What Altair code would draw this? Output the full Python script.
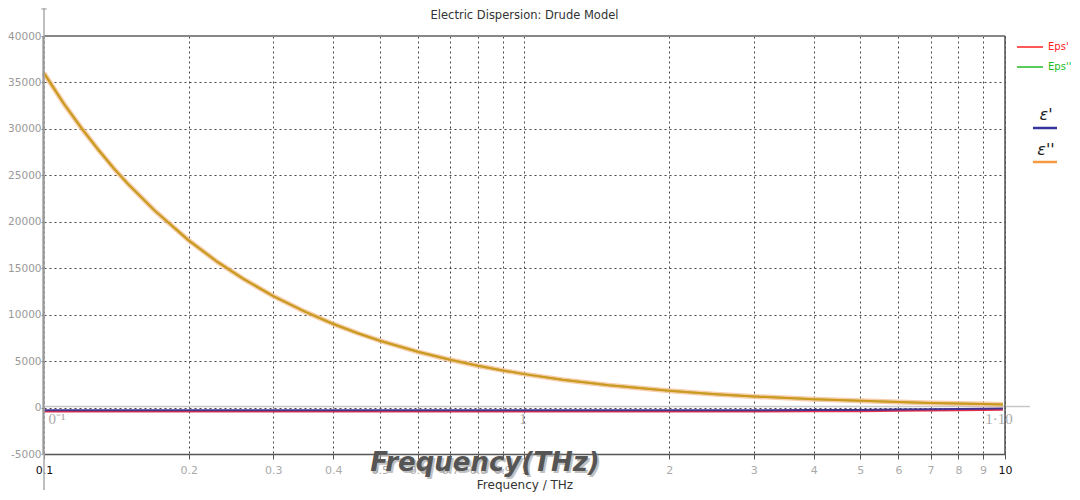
import altair as alt
import pandas as pd

# ---- data ----
freq = [0.1, 0.11, 0.12, 0.13, 0.14, 0.15, 0.17, 0.2, 0.23, 0.26, 0.3, 0.35, 0.4, 0.45,
        0.5, 0.6, 0.7, 0.8, 0.9, 1.0, 1.2, 1.5, 2.0, 2.5, 3.0, 4.0, 5.0, 6.0, 7.0, 8.0, 9.0, 9.9]
eps2 = [36000, 32700, 30000, 27700, 25700, 24000, 21200, 18000, 15650, 13850, 12000, 10300,
        9000, 8000, 7200, 6000, 5150, 4500, 4000, 3600, 3000, 2400, 1800, 1440, 1200, 900,
        720, 590, 500, 430, 370, 320]
eps1 = [-300, -300, -300, -300, -300, -300, -300, -300, -300, -300, -300, -300, -300, -300,
        -300, -300, -300, -300, -300, -300, -300, -298, -295, -292, -288, -270, -250, -220,
        -190, -160, -130, -110]

x_ticks = [0.1, 0.2, 0.3, 0.4, 0.5, 0.6, 0.7, 0.8, 0.9, 1, 2, 3, 4, 5, 6, 7, 8, 9, 10]
y_ticks = [-5000, 0, 5000, 10000, 15000, 20000, 25000, 30000, 35000, 40000]

title_text = "Electric Dispersion: Drude Model"
x_title = "Frequency / THz"
big_title = "Frequency(THz)"
legend_a = ["Eps'", "Eps''"]
legend_b = ["\u03b5'", "\u03b5''"]
ghost_labels = ["0\u207b\u00b9", "1", "1\u00b710"]

df = pd.DataFrame({"f": freq, "e2": eps2, "e1": eps1})

W, H = 961, 418
FONT = "DejaVu Sans"

xs = alt.Scale(type="log", domain=[0.1, 10], nice=False)
ys = alt.Scale(domain=[-5000, 40000], nice=False, zero=False)

x_axis = alt.Axis(values=x_ticks, title=None, grid=True, gridDash=[2, 3], gridColor="#333",
                  gridOpacity=0.9, domainColor="#555", domainWidth=1.5, tickColor="#555",
                  tickSize=5, labelFont=FONT, labelFontSize=11, labelPadding=5,
                  labelColor={"condition": {"test": "datum.value == 0.1 || datum.value == 10",
                                            "value": "#111"}, "value": "#aaa"},
                  labelExpr="datum.value < 1 ? format(datum.value, '.1f') : format(datum.value, 'd')",
                  labelOverlap=False, labelFlush=False)
y_axis = alt.Axis(values=y_ticks, title=None, grid=True, gridDash=[2, 3], gridColor="#333",
                  gridOpacity=0.9, domain=False, tickColor="#999", tickSize=3,
                  labelFont=FONT, labelFontSize=10.5, labelColor="#999", labelPadding=0,
                  labelExpr="'' + datum.value", labelOverlap=False)

base = alt.Chart(df)

grid = base.mark_line(opacity=0).encode(
    x=alt.X("f:Q", scale=xs, axis=x_axis),
    y=alt.Y("e2:Q", scale=ys, axis=y_axis),
)

green = base.mark_line(color="#22bb22", strokeWidth=2).encode(
    x=alt.X("f:Q", scale=xs), y=alt.Y("e2:Q", scale=ys))
orange_halo = base.mark_line(color="#f7b98a", strokeWidth=5, opacity=0.75).encode(
    x=alt.X("f:Q", scale=xs), y=alt.Y("e2:Q", scale=ys))
orange = base.mark_line(color="#c99a1c", strokeWidth=2).encode(
    x=alt.X("f:Q", scale=xs), y=alt.Y("e2:Q", scale=ys))
red = base.mark_line(color="#e8304a", strokeWidth=2.5).encode(
    x=alt.X("f:Q", scale=xs), y=alt.Y("e1:Q", scale=ys), yOffset=alt.value(1))
blue = base.mark_line(color="#44348f", strokeWidth=2).encode(
    x=alt.X("f:Q", scale=xs), y=alt.Y("e1:Q", scale=ys))

one = pd.DataFrame({"k": [0]})
oc = alt.Chart(one)

top_border = oc.mark_rule(color="#888", strokeWidth=2).encode(
    x=alt.value(0), x2=alt.value(W), y=alt.value(0))
right_border = oc.mark_rule(color="#555", strokeWidth=1.5).encode(
    x=alt.value(W), y=alt.value(0), y2=alt.value(H))
left_line = oc.mark_rule(color="#aaa", strokeWidth=1.5).encode(
    x=alt.value(0), y=alt.value(-31), y2=alt.value(454))
left_line2 = oc.mark_rule(color="#777", strokeWidth=1).encode(
    x=alt.value(-1), y=alt.value(0), y2=alt.value(H))
arrow = oc.mark_point(shape="triangle-up", filled=True, color="#aaa", size=40).encode(
    x=alt.value(0), y=alt.value(-29))
ghost_zero = oc.mark_rule(color="#c8c8c8", strokeWidth=1.5).encode(
    x=alt.value(0), x2=alt.value(986), y=alt.value(370.5))

title = oc.mark_text(font=FONT, fontSize=11.5, color="#333", baseline="top").encode(
    x=alt.value(W / 2), y=alt.value(-26), text=alt.value(title_text))
xt = oc.mark_text(font=FONT, fontSize=12, color="#333", baseline="alphabetic").encode(
    x=alt.value(481), y=alt.value(453), text=alt.value(x_title))
big_shadow = oc.mark_text(font=FONT, fontSize=26, fontWeight="bold", fontStyle="italic",
                          color="#999", opacity=0.6).encode(
    x=alt.value(443), y=alt.value(429), text=alt.value(big_title))
big = oc.mark_text(font=FONT, fontSize=26, fontWeight="bold", fontStyle="italic",
                   color="#555").encode(
    x=alt.value(441), y=alt.value(427), text=alt.value(big_title))

ghost_df = pd.DataFrame({"t": ghost_labels, "px": [13, 479, 955], "py": [383, 383, 383]})
ghosts = alt.Chart(ghost_df).mark_text(font="Liberation Serif", fontSize=15, color="#aaa").encode(
    x=alt.X("px:Q", scale=None), y=alt.Y("py:Q", scale=None), text="t:N")

# legend group 1
lg1 = pd.DataFrame({"t": legend_a, "y": [11, 31], "c": ["#ff2020", "#20bb20"]})
leg1_lines = alt.Chart(lg1).mark_rule(strokeWidth=1.5).encode(
    x=alt.value(973), x2=alt.value(999), y=alt.Y("y:Q", scale=None),
    color=alt.Color("c:N", scale=None))
leg1_text = alt.Chart(lg1).mark_text(font=FONT, fontSize=10, align="left").encode(
    x=alt.value(1004), y=alt.Y("y:Q", scale=None), text="t:N",
    color=alt.Color("c:N", scale=None))

lg2 = pd.DataFrame({"t": legend_b, "ty": [79, 114], "ly": [92, 126],
                    "c": ["#3535a0", "#f59a40"]})
leg2_text = alt.Chart(lg2).mark_text(font=FONT, fontSize=16, fontStyle="italic",
                                     color="#222").encode(
    x=alt.value(1002), y=alt.Y("ty:Q", scale=None), text="t:N")
leg2_lines = alt.Chart(lg2).mark_rule(strokeWidth=2.5).encode(
    x=alt.value(989), x2=alt.value(1013), y=alt.Y("ly:Q", scale=None),
    color=alt.Color("c:N", scale=None))

chart = alt.layer(
    grid, ghost_zero, green, orange_halo, orange, red, blue,
    top_border, right_border, left_line, left_line2, arrow,
    title, xt, big_shadow, big, ghosts,
    leg1_lines, leg1_text, leg2_text, leg2_lines,
).properties(
    width=W, height=H,
    autosize=alt.AutoSizeParams(type="none"),
    padding={"left": 36, "top": 28, "right": 67, "bottom": 38},
).configure_view(stroke=None).configure(background="white")

chart.save("out.html", embed_options={"renderer": "svg", "actions": False})
